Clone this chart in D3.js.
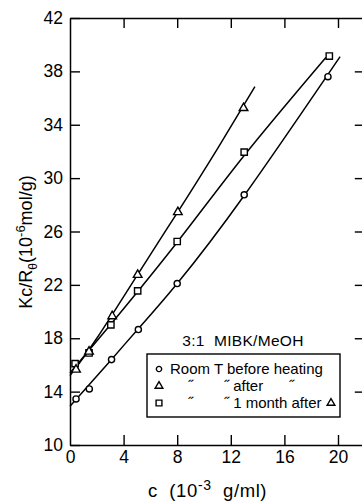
<!DOCTYPE html>
<html>
<head>
<meta charset="utf-8">
<script src="https://cdn.jsdelivr.net/npm/d3@7"></script>
<style>
  html, body { margin: 0; padding: 0; background: #fff; }
  svg { display: block; font-family: "Liberation Sans", Arial, sans-serif; }
  svg text { white-space: pre; }
</style>
</head>
<body>
<svg id="chart" width="362" height="504"></svg>
<script>
// ---- data ----
const xTicks = [0, 4, 8, 12, 16, 20];
const yTicks = [10, 14, 18, 22, 26, 30, 34, 38, 42];

// Room T before heating (circles)
const beforeC = [0.45, 1.44, 3.1, 5.1, 8.0, 13.0, 19.25];
const beforeY = [13.45, 14.2, 16.4, 18.65, 22.1, 28.75, 37.6];
// after heating (triangles)
const afterC = [0.45, 1.42, 3.15, 5.05, 8.05, 12.95];
const afterY = [15.65, 17.0, 19.65, 22.75, 27.45, 35.25];
// 1 month after (squares)
const monthC = [0.38, 1.42, 3.05, 5.05, 8.0, 13.0, 19.35];
const monthY = [16.1, 16.9, 19.0, 21.55, 25.25, 31.95, 39.15];

// fitted curves
const beforeFitC = [0, 3, 5, 8, 13, 20.15];
const beforeFitY = [12.9, 16.3, 18.6, 22.1, 28.7, 39.1];
const afterFitC = [0, 2, 5, 8, 11, 13.8];
const afterFitY = [15.2, 18.0, 22.7, 27.4, 32.2, 36.85];
const monthFitC = [0, 3, 8, 13, 19.1];
const monthFitY = [15.4, 19.0, 25.2, 31.7, 39.05];

const legendTitle = "3:1  MIBK/MeOH";

// ---- layout ----
const svg = d3.select("#chart");
const x = d3.scaleLinear().domain([0, 22]).range([70, 364.8]);
const y = d3.scaleLinear().domain([10, 42]).range([445, 18]);
const font = 17.5;

// axes
const gL = svg.append("g").attr("transform", "translate(70,0)")
  .call(d3.axisLeft(y).tickValues(yTicks).tickSizeInner(-10).tickSizeOuter(0).tickPadding(7));
const gB = svg.append("g").attr("transform", "translate(0,445)")
  .call(d3.axisBottom(x).tickValues(xTicks).tickSizeInner(-10).tickSizeOuter(0).tickPadding(6));
const gT = svg.append("g").attr("transform", "translate(0,18)")
  .call(d3.axisTop(x).tickValues(xTicks.slice(1)).tickSizeInner(-10).tickSizeOuter(0).tickFormat(""));
const gR = svg.append("g").attr("transform", "translate(364.8,0)")
  .call(d3.axisRight(y).tickValues(yTicks.slice(1, -1)).tickSizeInner(-10).tickSizeOuter(0).tickFormat(""));

[gL, gB, gT, gR].forEach(g => {
  g.selectAll("path.domain").attr("stroke", "#000").attr("stroke-width", 1.5);
  g.selectAll(".tick line").attr("stroke", "#000").attr("stroke-width", 1.4);
  g.selectAll(".tick text").attr("fill", "#000").style("font-size", font + "px")
    .style("font-family", "'Liberation Sans', Arial, sans-serif");
});
gB.selectAll(".tick").filter(d => d === 0).select("line").remove();

// fit curves
const line = d3.line().x(d => x(d[0])).y(d => y(d[1])).curve(d3.curveNatural);
function fit(cs, ys) { return cs.map((c, i) => [c, ys[i]]); }
[[beforeFitC, beforeFitY], [afterFitC, afterFitY], [monthFitC, monthFitY]].forEach(([cs, ys]) => {
  svg.append("path").datum(fit(cs, ys)).attr("d", line)
    .attr("fill", "none").attr("stroke", "#000").attr("stroke-width", 1.5);
});

// markers
const sym = {
  circle: d3.symbol().type(d3.symbolCircle).size(30),
  triangle: d3.symbol().type(d3.symbolTriangle).size(32),
  square: d3.symbol().type(d3.symbolSquare).size(40)
};
function drawPts(cs, ys, s) {
  svg.append("g").selectAll("path").data(fit(cs, ys)).join("path")
    .attr("transform", d => `translate(${x(d[0])},${y(d[1])})`)
    .attr("d", sym[s]).attr("fill", "#fff").attr("stroke", "#000").attr("stroke-width", 1.4);
}
drawPts(beforeC, beforeY, "circle");
drawPts(monthC, monthY, "square");
drawPts(afterC, afterY, "triangle");

// axis titles
const xt = svg.append("text").attr("x", 148).attr("y", 497).attr("fill", "#000")
  .style("font-size", "18.5px").style("letter-spacing", "0.6px");
xt.append("tspan").text("c  (10");
xt.append("tspan").attr("dy", -7).style("font-size", "14px").text("-3");
xt.append("tspan").attr("dy", 7).text("  g/ml)");

const yt = svg.append("text").attr("transform", "translate(32,242) rotate(-90)")
  .attr("text-anchor", "middle").attr("fill", "#000").style("font-size", "18px");
yt.append("tspan").text("Kc/R");
yt.append("tspan").attr("dy", 5).style("font-size", "12px").text("\u03B8");
yt.append("tspan").attr("dy", -5).text("(10");
yt.append("tspan").attr("dy", -7).style("font-size", "13px").text("-6");
yt.append("tspan").attr("dy", 7).text("mol/g)");

// legend
svg.append("text").attr("x", 243).attr("y", 346).attr("text-anchor", "middle")
  .attr("fill", "#000").style("font-size", "15.5px").style("letter-spacing", "0.3px").text(legendTitle);
svg.append("rect").attr("x", 147).attr("y", 354).attr("width", 193).attr("height", 63)
  .attr("fill", "#fff").attr("stroke", "#000").attr("stroke-width", 1.4);

const legRows = [
  { s: "circle", y: 374, parts: [[170, "Room T before heating"]] },
  { s: "triangle", y: 391, parts: [[188, "\u02DD"], [224, "\u02DD after"], [289, "\u02DD"]] },
  { s: "square", y: 408, parts: [[188, "\u02DD"], [224, "\u02DD 1 month after"]] }
];
const legSym = {
  circle: d3.symbol().type(d3.symbolCircle).size(22),
  triangle: d3.symbol().type(d3.symbolTriangle).size(26),
  square: d3.symbol().type(d3.symbolSquare).size(34)
};
legRows.forEach(r => {
  svg.append("path").attr("transform", `translate(159,${r.y - 5})`).attr("d", legSym[r.s])
    .attr("fill", "#fff").attr("stroke", "#000").attr("stroke-width", 1.4);
  r.parts.forEach(([px, t]) => {
    svg.append("text").attr("x", px).attr("y", r.y).attr("fill", "#000")
      .style("font-size", "15px").text(t);
  });
});
svg.append("path").attr("transform", "translate(331,403)").attr("d", legSym.triangle)
  .attr("fill", "#fff").attr("stroke", "#000").attr("stroke-width", 1.4);
</script>
</body>
</html>
